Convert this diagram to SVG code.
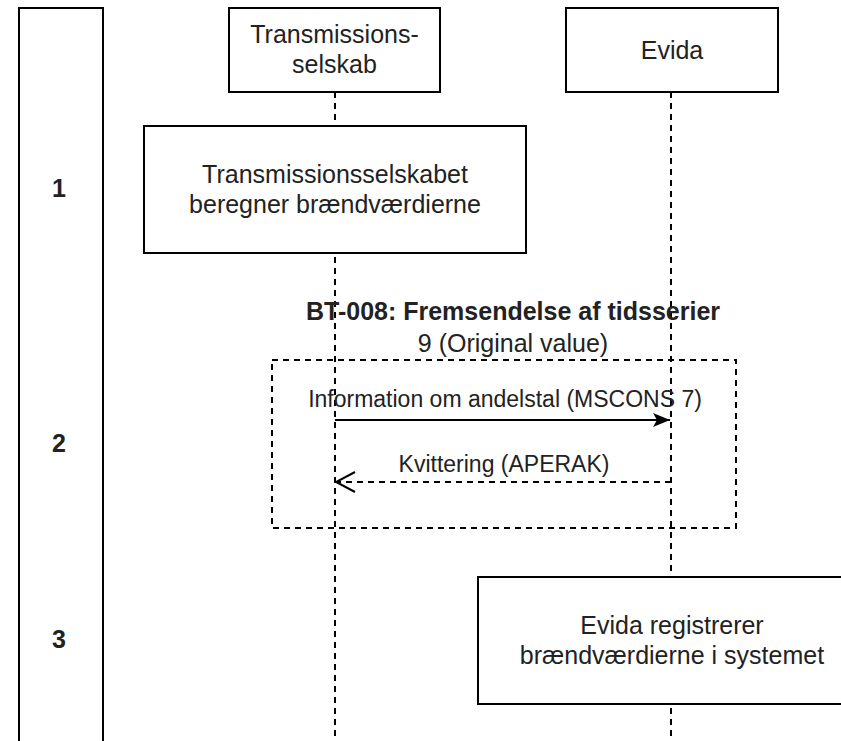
<svg xmlns="http://www.w3.org/2000/svg" width="841" height="741" viewBox="0 0 841 741">
<style>
.box{fill:#fff;stroke:#000;stroke-width:2}
.life{fill:none;stroke:#000;stroke-width:2;stroke-dasharray:6 5}
.frame{fill:none;stroke:#000;stroke-width:2;stroke-dasharray:6 5}
.t{font-family:"Liberation Sans",Arial,sans-serif;font-size:25px;fill:#222;text-anchor:middle}
.m{font-family:"Liberation Sans",Arial,sans-serif;font-size:23px;fill:#222;text-anchor:middle}
.b{font-weight:bold}
</style>
<defs>
<marker id="block" markerWidth="18" markerHeight="16" refX="17" refY="8" orient="auto" markerUnits="userSpaceOnUse">
<path d="M0,1 L17,8 L0,15 L4,8 Z" fill="#000"/>
</marker>
<marker id="open" markerWidth="22" markerHeight="24" refX="20" refY="11" orient="auto" markerUnits="userSpaceOnUse">
<path d="M1,1 L20,11 L1,21" fill="none" stroke="#000" stroke-width="2"/>
</marker>
</defs>
<rect width="841" height="741" fill="#fff"/>
<g id="phases">
<rect class="box" x="19" y="8" width="84" height="760"/>
<text class="t b" x="59" y="197">1</text>
<text class="t b" x="59" y="452">2</text>
<text class="t b" x="59" y="648">3</text>
</g>
<g id="connectors">
<line class="life" x1="335" y1="92" x2="335" y2="741"/>
<line class="life" x1="671" y1="92" x2="671" y2="741"/>
<rect class="frame" x="272" y="360" width="464" height="168"/>
<line x1="335" y1="420" x2="670" y2="420" stroke="#000" stroke-width="2" marker-end="url(#block)"/>
<line x1="671" y1="482" x2="336" y2="482" stroke="#000" stroke-width="2" stroke-dasharray="6 5" marker-end="url(#open)"/>
<text class="t b" x="513" y="320">BT-008: Fremsendelse af tidsserier</text>
<text class="t" x="513" y="352">9 (Original value)</text>
<text class="m" x="505" y="407">Information om andelstal (MSCONS 7)</text>
<text class="m" x="504" y="472">Kvittering (APERAK)</text>
</g>
<g id="transmissionsselskab">
<rect class="box" x="229" y="8" width="211" height="84"/>
<text class="t" x="334.5" y="43">Transmissions-</text>
<text class="t" x="334.5" y="73">selskab</text>
</g>
<g id="evida">
<rect class="box" x="566" y="8" width="212" height="84"/>
<text class="t" x="672" y="59">Evida</text>
</g>
<g id="step1">
<rect class="box" x="144" y="126" width="382" height="127"/>
<text class="t" x="335" y="183">Transmissionsselskabet</text>
<text class="t" x="335" y="213">beregner brændværdierne</text>
</g>
<g id="step3">
<rect class="box" x="478" y="577" width="388" height="127"/>
<text class="t" x="672" y="634">Evida registrerer</text>
<text class="t" x="672" y="664">brændværdierne i systemet</text>
</g>
</svg>
